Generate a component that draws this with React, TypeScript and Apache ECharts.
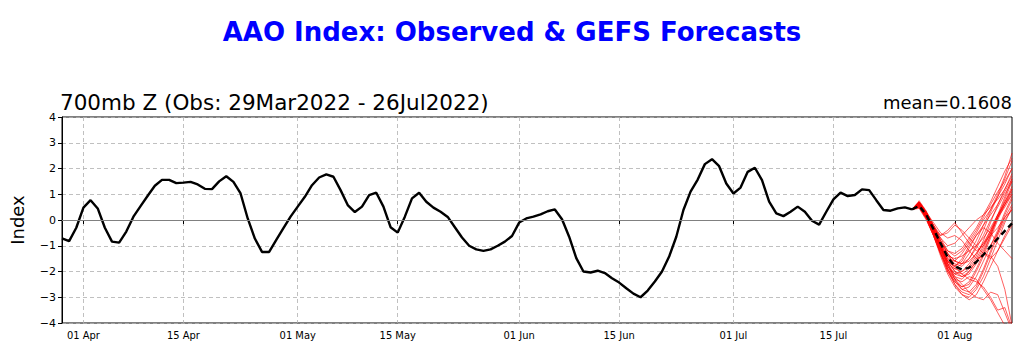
import React, { useEffect, useRef } from "react";
import * as echarts from "echarts";

// Observed daily AAO index, 29 Mar 2022 (day 0) .. 26 Jul 2022 (day 119)
const observed: number[] = [
  -0.71, -0.82, -0.3, 0.48, 0.77, 0.45, -0.3, -0.84, -0.88, -0.45,
  0.13, 0.54, 0.94, 1.33, 1.56, 1.56, 1.43, 1.45, 1.48, 1.38,
  1.21, 1.2, 1.5, 1.7, 1.48, 1.03, 0.06, -0.72, -1.24, -1.24,
  -0.77, -0.32, 0.13, 0.52, 0.9, 1.35, 1.65, 1.77, 1.68, 1.16,
  0.58, 0.31, 0.52, 0.97, 1.06, 0.52, -0.28, -0.49, 0.13, 0.84,
  1.06, 0.71, 0.48, 0.32, 0.12, -0.28, -0.68, -1.0, -1.14, -1.2,
  -1.14, -1.0, -0.84, -0.62, -0.1, 0.06, 0.13, 0.22, 0.34, 0.41,
  0.03, -0.65, -1.48, -2.0, -2.04, -1.97, -2.06, -2.26, -2.43, -2.65,
  -2.86, -3.0, -2.74, -2.39, -2.0, -1.42, -0.65, 0.39, 1.1, 1.57,
  2.17, 2.36, 2.09, 1.42, 1.03, 1.26, 1.87, 2.03, 1.55, 0.71,
  0.26, 0.15, 0.32, 0.52, 0.32, -0.03, -0.18, 0.32, 0.8, 1.06,
  0.93, 0.97, 1.19, 1.16, 0.77, 0.39, 0.36, 0.45, 0.49, 0.41,
];

// GEFS members, days 120 (27 Jul) .. 133 (9 Aug)
const members: number[][] = [
  [0.6, 0.2, -0.4, -1.0, -1.6, -2.0, -2.2, -2.1, -1.7, -1.2, -0.6, 0.1, 0.8, 1.5],
  [0.7, 0.3, -0.3, -0.9, -1.4, -1.7, -1.8, -1.5, -1.0, -0.4, 0.3, 0.9, 1.6, 2.3],
  [0.55, 0.1, -0.5, -1.2, -1.9, -2.4, -2.7, -2.6, -2.2, -1.6, -1.0, -0.4, 0.3, 0.9],
  [0.65, 0.25, -0.2, -0.6, -0.4, -0.1, -0.5, -0.9, -1.2, -1.0, -0.5, 0.2, 0.7, 1.2],
  [0.5, 0.05, -0.6, -1.4, -2.1, -2.6, -2.9, -3.0, -2.7, -2.2, -1.5, -0.8, -0.1, 0.5],
  [0.6, 0.15, -0.4, -1.0, -1.5, -1.6, -1.3, -0.9, -0.5, 0.0, 0.4, 0.9, 1.4, 2.0],
  [0.75, 0.35, -0.2, -0.8, -1.3, -1.8, -2.1, -2.3, -2.4, -2.6, -3.0, -3.5, -3.4, -4.2],
  [0.45, 0.0, -0.6, -1.3, -1.8, -2.1, -2.0, -1.7, -1.3, -0.9, -0.6, -0.3, 0.1, 0.6],
  [0.6, 0.2, -0.3, -0.7, -1.0, -0.9, -0.6, -0.3, 0.0, 0.2, 0.5, 0.8, 1.2, 1.7],
  [0.7, 0.3, -0.3, -1.1, -1.8, -2.3, -2.6, -2.5, -2.0, -1.4, -0.7, 0.0, 0.6, 1.1],
  [0.55, 0.1, -0.5, -1.1, -1.7, -2.2, -2.5, -2.8, -3.0, -3.1, -2.8, -2.9, -3.6, -4.3],
  [0.65, 0.25, -0.4, -1.0, -1.4, -1.5, -1.4, -1.2, -1.0, -0.7, -0.3, 0.2, 0.6, 1.0],
  [0.5, 0.1, -0.5, -1.2, -1.7, -1.9, -1.7, -1.3, -0.8, -0.2, 0.4, 1.0, 1.7, 2.6],
  [0.6, 0.2, -0.4, -1.1, -1.8, -2.2, -2.3, -2.0, -1.6, -1.3, -1.4, -1.8, -2.7, -4.1],
  [0.7, 0.3, -0.1, -0.5, -0.7, -0.6, -0.8, -1.2, -1.5, -1.4, -1.0, -0.5, 0.1, 0.4],
  [0.55, 0.15, -0.5, -1.3, -2.0, -2.5, -2.8, -2.9, -2.6, -2.0, -1.3, -0.6, 0.0, 0.4],
  [0.65, 0.2, -0.3, -0.9, -1.5, -1.9, -2.0, -1.8, -1.4, -0.8, -0.1, 0.6, 1.2, 1.8],
  [0.6, 0.2, -0.4, -1.0, -1.6, -1.8, -1.6, -1.1, -0.6, -0.3, -0.5, -0.9, -1.2, -1.5],
  [0.5, 0.05, -0.6, -1.3, -2.0, -2.4, -2.6, -2.4, -1.9, -1.3, -0.6, 0.1, 0.7, 1.3],
  [0.7, 0.3, -0.2, -0.7, -1.2, -1.4, -1.2, -0.8, -0.4, 0.1, 0.6, 1.1, 1.5, 2.0],
  [0.6, 0.2, -0.4, -1.1, -1.6, -2.0, -2.1, -1.9, -1.5, -1.0, -0.4, 0.2, 0.9, 1.6],
  [0.65, 0.25, -0.3, -0.8, -1.2, -1.3, -1.1, -0.7, -0.3, 0.2, 0.7, 1.3, 1.9, 2.4],
  [0.55, 0.1, -0.5, -1.2, -1.9, -2.5, -2.9, -3.1, -2.9, -2.4, -1.8, -1.2, -0.6, -0.1],
  [0.6, 0.2, -0.3, -0.6, -0.5, -0.2, -0.4, -0.7, -1.0, -1.3, -1.5, -1.2, -0.7, -0.2],
  [0.7, 0.3, -0.3, -1.0, -1.7, -2.1, -2.2, -2.0, -1.6, -1.1, -0.5, 0.1, 0.6, 1.2],
  [0.5, 0.05, -0.6, -1.3, -1.9, -2.3, -2.4, -2.2, -2.3, -2.7, -3.1, -3.6, -4.1, -4.6],
  [0.6, 0.15, -0.4, -0.9, -1.3, -1.6, -1.7, -1.5, -1.1, -0.6, 0.0, 0.5, 1.0, 1.5],
  [0.65, 0.2, -0.4, -1.1, -1.6, -1.8, -1.5, -1.0, -0.6, -0.2, 0.2, 0.6, 1.1, 1.6],
  [0.55, 0.15, -0.4, -1.0, -1.7, -2.3, -2.7, -2.8, -2.5, -1.9, -1.2, -0.5, 0.2, 0.8],
  [0.7, 0.3, -0.2, -0.8, -1.3, -1.6, -1.7, -1.6, -1.3, -0.9, -0.4, 0.1, 0.5, 1.0],
];

// Ensemble mean, days 120 .. 133
const ensembleMean: number[] = [
  0.55, 0.2, -0.35, -0.9, -1.45, -1.8, -1.92, -1.85, -1.63, -1.35, -1.03, -0.72, -0.42, -0.13,
];

const startDate = { year: 2022, month: 2, day: 29 }; // 29 Mar 2022
const totalDays = 134; // 29 Mar .. 9 Aug
const tickLabels: string[] = ["01 Apr", "15 Apr", "01 May", "15 May", "01 Jun", "15 Jun", "01 Jul", "15 Jul", "01 Aug"];
const yTicks: number[] = [-4, -3, -2, -1, 0, 1, 2, 3, 4];

const titleText = "AAO Index: Observed & GEFS Forecasts";
const subtitleText = "700mb Z (Obs: 29Mar2022 - 26Jul2022)";
const meanText = "mean=0.1608";

const monthNames = ["Jan", "Feb", "Mar", "Apr", "May", "Jun", "Jul", "Aug", "Sep", "Oct", "Nov", "Dec"];

function buildCategories(): string[] {
  const out: string[] = [];
  for (let i = 0; i < totalDays; i++) {
    const d = new Date(Date.UTC(startDate.year, startDate.month, startDate.day + i));
    const dd = String(d.getUTCDate()).padStart(2, "0");
    out.push(dd + " " + monthNames[d.getUTCMonth()]);
  }
  return out;
}

export default function App() {
  const ref = useRef<HTMLDivElement>(null);

  useEffect(() => {
    if (!ref.current) return;
    const chart = echarts.init(ref.current, undefined, { renderer: "svg" });
    const categories = buildCategories();
    const isTick = (idx: number) => tickLabels.includes(categories[idx]);
    const font = "'DejaVu Sans', sans-serif";
    const fcStart = observed.length; // day 120
    const lastObsIdx = observed.length - 1;

    const memberSeries = members.map((m) => ({
      type: "line" as const,
      data: [[lastObsIdx, observed[lastObsIdx]] as [number, number]].concat(
        m.map((v, i) => [fcStart + i, v] as [number, number])
      ),
      showSymbol: false,
      symbol: "none",
      silent: true,
      z: 3,
      lineStyle: { color: "#ff0000", width: 0.9, opacity: 0.7 },
    }));

    chart.setOption({
      animation: false,
      title: [
        {
          text: titleText,
          left: "center",
          top: 14,
          textStyle: { color: "#0000ff", fontSize: 26, fontWeight: "bold", fontFamily: font },
        },
        {
          text: subtitleText,
          left: 60,
          top: 91,
          padding: 0,
          textStyle: { color: "#000", fontSize: 21.5, fontWeight: "normal", fontFamily: font },
        },
        {
          text: meanText,
          right: 12,
          top: 93,
          padding: 0,
          textStyle: { color: "#000", fontSize: 18, fontWeight: "normal", fontFamily: font },
        },
      ],
      grid: {
        left: 60,
        right: 12,
        top: 117,
        bottom: 41,
        show: true,
        borderColor: "#000",
        borderWidth: 1,
        backgroundColor: "transparent",
      },
      xAxis: {
        type: "category",
        data: categories,
        boundaryGap: false,
        axisLine: { show: true, lineStyle: { color: "#000", width: 1 } },
        axisTick: { show: true, interval: (idx: number) => isTick(idx), length: 4, lineStyle: { color: "#000" } },
        axisLabel: {
          interval: (idx: number) => isTick(idx),
          color: "#000",
          fontSize: 11,
          margin: 7,
          fontFamily: "'DejaVu Sans Condensed', 'DejaVu Sans', sans-serif",
        },
        splitLine: {
          show: true,
          interval: (idx: number) => isTick(idx),
          lineStyle: { color: "#b0b0b0", type: [4, 3], width: 0.8 },
        },
      },
      yAxis: {
        type: "value",
        min: yTicks[0],
        max: yTicks[yTicks.length - 1],
        interval: 1,
        name: "Index",
        nameLocation: "middle",
        nameGap: 36,
        nameTextStyle: { fontSize: 18, color: "#000", fontFamily: font },
        axisLine: { show: true, lineStyle: { color: "#000", width: 1 } },
        axisTick: { show: true, length: 4, lineStyle: { color: "#000" } },
        axisLabel: {
          color: "#000",
          fontSize: 11,
          margin: 6,
          fontFamily: font,
          formatter: (v: number) => (v < 0 ? "\u2212" + Math.abs(v) : String(v)),
        },
        splitLine: { show: true, lineStyle: { color: "#b0b0b0", type: [4, 3], width: 0.8 } },
      },
      series: [
        {
          type: "line",
          data: [],
          z: 1,
          markLine: {
            silent: true,
            symbol: "none",
            label: { show: false },
            lineStyle: { color: "#808080", type: "solid", width: 1.2 },
            data: [{ yAxis: 0 }],
          },
        },
        ...memberSeries,
        {
          type: "line",
          data: observed.map((v, i) => [i, v]),
          showSymbol: false,
          symbol: "none",
          z: 4,
          lineStyle: { color: "#000", width: 2.4 },
        },
        {
          type: "line",
          data: [[lastObsIdx, observed[lastObsIdx]]].concat(ensembleMean.map((v, i) => [fcStart + i, v])),
          showSymbol: false,
          symbol: "none",
          z: 5,
          lineStyle: { color: "#000", width: 2.4, type: [6, 4] },
        },
      ],
    });
    return () => chart.dispose();
  }, []);

  return <div ref={ref} style={{ width: 1024, height: 364, position: "absolute", left: 0, top: 0 }} />;
}
